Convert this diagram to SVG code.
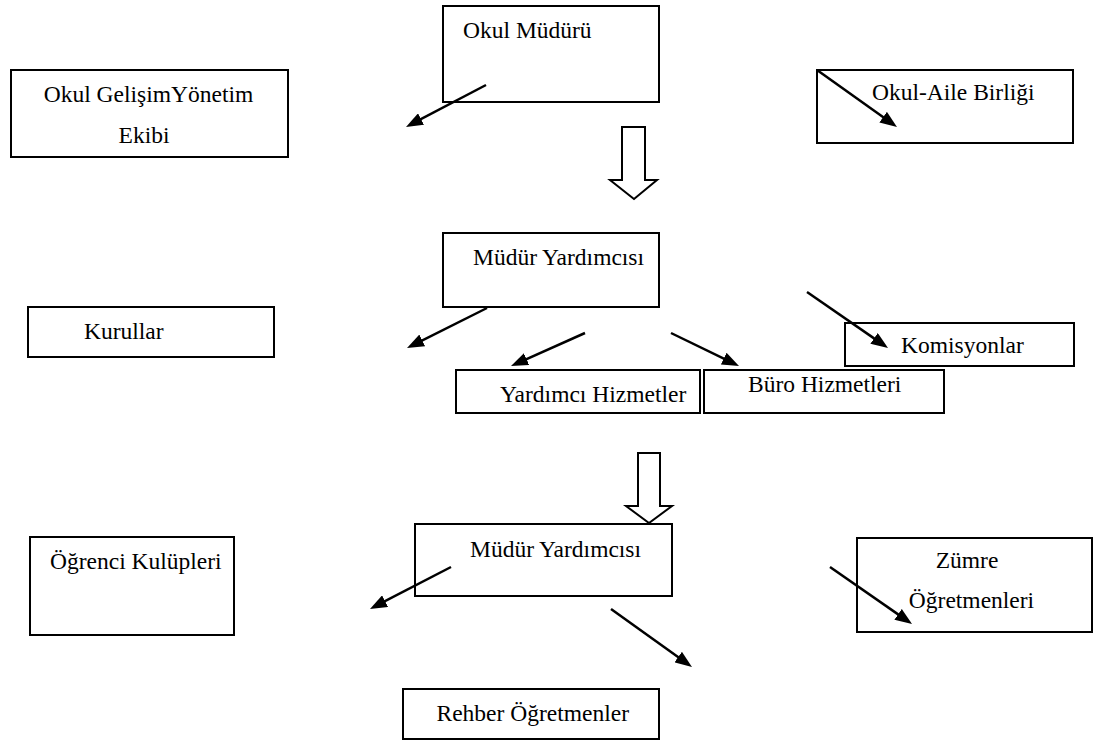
<svg xmlns="http://www.w3.org/2000/svg" width="1097" height="743" viewBox="0 0 1097 743">
<style>
.box{fill:#fff;stroke:#000;stroke-width:2}
.t{font-family:"Liberation Serif","Times New Roman",serif;font-size:23.5px;fill:#000}
.m{text-anchor:middle}
.c{stroke:#000;stroke-width:2.5;fill:none;marker-end:url(#ah)}
.ha{fill:#fff;stroke:#000;stroke-width:2;stroke-linejoin:miter}
</style>
<defs>
<marker id="ah" markerUnits="userSpaceOnUse" markerWidth="17" markerHeight="13" viewBox="0 0 17 13" refX="11" refY="6.5" orient="auto">
<path d="M0,0 L17,6.5 L0,13 Z" fill="#000"/>
</marker>
</defs>
<rect width="1097" height="743" fill="#fff"/>
<g id="okul-muduru"><rect class="box" x="443" y="6" width="216" height="96"/><text class="t" x="463" y="37.5">Okul Müdürü</text></g>
<g id="gelisim"><rect class="box" x="11" y="70" width="277" height="87"/><text class="t m" x="148.5" y="101.5">Okul GelişimYönetim</text><text class="t m" x="144" y="143">Ekibi</text></g>
<g id="okul-aile"><rect class="box" x="817" y="70" width="256" height="73"/><text class="t" x="872" y="100">Okul-Aile Birliği</text></g>
<g id="mudur-yard-1"><rect class="box" x="443" y="233" width="216" height="74"/><text class="t" x="473" y="265">Müdür Yardımcısı</text></g>
<g id="kurullar"><rect class="box" x="28" y="307" width="246" height="50"/><text class="t" x="84" y="339">Kurullar</text></g>
<g id="komisyonlar"><rect class="box" x="845" y="323" width="229" height="43"/><text class="t" x="901" y="353">Komisyonlar</text></g>
<g id="yardimci-hizmetler"><rect class="box" x="456" y="370" width="244" height="43"/><text class="t" x="500" y="402">Yardımcı Hizmetler</text></g>
<g id="buro-hizmetleri"><rect class="box" x="704" y="370" width="240" height="43"/><text class="t" x="748" y="392">Büro Hizmetleri</text></g>
<g id="mudur-yard-2"><rect class="box" x="415" y="524" width="257" height="72"/><text class="t" x="470" y="557">Müdür Yardımcısı</text></g>
<g id="ogrenci-kulupleri"><rect class="box" x="30" y="537" width="204" height="98"/><text class="t" x="50" y="569">Öğrenci Kulüpleri</text></g>
<g id="zumre"><rect class="box" x="857" y="538" width="235" height="94"/><text class="t m" x="967" y="568">Zümre</text><text class="t m" x="971.5" y="608">Öğretmenleri</text></g>
<g id="rehber"><rect class="box" x="403" y="689" width="256" height="50"/><text class="t" x="436.5" y="721">Rehber Öğretmenler</text></g>
<g id="connectors">
<polygon class="ha" points="622,127 645,127 645,180 657,180 634,199 610,180 622,180"/>
<polygon class="ha" points="638,453 660,453 660,506 672,506 649,523 626,506 638,506"/>
<line class="c" x1="486" y1="85" x2="411.3" y2="124.2"/>
<line class="c" x1="817" y1="70" x2="892.1" y2="123.5"/>
<line class="c" x1="487" y1="308" x2="412.4" y2="345.3"/>
<line class="c" x1="585" y1="333" x2="516.5" y2="363.6"/>
<line class="c" x1="671" y1="333" x2="733.6" y2="363.4"/>
<line class="c" x1="807" y1="292" x2="883.1" y2="344.6"/>
<line class="c" x1="451" y1="567" x2="375.3" y2="606.2"/>
<line class="c" x1="830" y1="567" x2="907.1" y2="620.6"/>
<line class="c" x1="611" y1="609" x2="687.1" y2="663.5"/>
</g>
</svg>
